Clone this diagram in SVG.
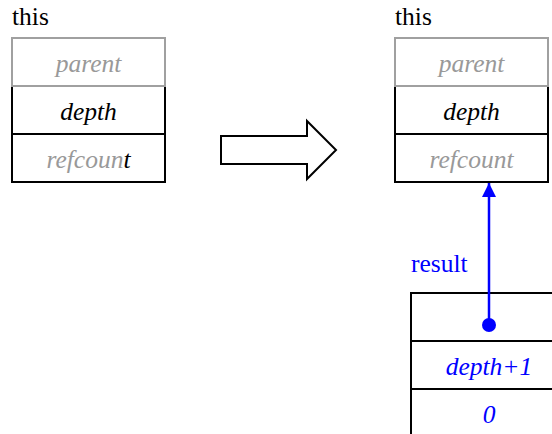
<svg xmlns="http://www.w3.org/2000/svg" width="552" height="434" viewBox="0 0 552 434" font-family="'Liberation Serif', 'Times New Roman', serif" font-size="26">
<style>
.t{font-family:'Liberation Serif','Times New Roman',serif;font-size:25.5px}
.f{font-style:italic;text-anchor:middle}
.g{fill:#999999}
.b{fill:#0000ff}
.cell{fill:#ffffff;stroke:#000000;stroke-width:2}
.gcell{fill:#ffffff;stroke:#a0a0a0;stroke-width:2}
</style>
<defs>
<marker id="ah" viewBox="0 0 10 10" refX="10" refY="5" markerWidth="14" markerHeight="16" markerUnits="userSpaceOnUse" orient="auto">
<path d="M0,0 L10,5 L0,10 z" fill="#0000ff"/>
</marker>
</defs>
<g id="this-left">
<text class="t" x="12" y="25">this</text>
<rect class="cell" x="12" y="86" width="153" height="48"/>
<rect class="cell" x="12" y="134" width="153" height="48"/>
<rect class="gcell" x="12" y="38" width="153" height="48"/>
<text class="t f g" x="88.5" y="72">parent</text>
<text class="t f" x="88.5" y="120">depth</text>
<text class="t f" x="88.5" y="168"><tspan class="g">refcoun</tspan><tspan>t</tspan></text>
</g>
<g id="transform-arrow">
<polygon points="221,136 307,136 307,121 336,150 307,179 307,164 221,164" fill="#ffffff" stroke="#000000" stroke-width="2"/>
</g>
<g id="this-right">
<text class="t" x="395" y="25">this</text>
<rect class="cell" x="395" y="86" width="153" height="48"/>
<rect class="cell" x="395" y="134" width="153" height="48"/>
<rect class="gcell" x="395" y="38" width="153" height="48"/>
<text class="t f g" x="471.5" y="72">parent</text>
<text class="t f" x="471.5" y="120">depth</text>
<text class="t f g" x="471.5" y="168">refcount</text>
</g>
<g id="result">
<text class="t b" x="411" y="272">result</text>
<rect class="cell" x="411" y="293" width="153" height="48"/>
<rect class="cell" x="411" y="341" width="153" height="48"/>
<rect class="cell" x="411" y="389" width="153" height="48"/>
<text class="t f b" x="489" y="375">depth+1</text>
<text class="t f b" x="489" y="423">0</text>
</g>
<g id="connectors">
<line x1="489" y1="325" x2="489" y2="183" stroke="#0000ff" stroke-width="2.5" marker-end="url(#ah)"/>
<circle cx="489" cy="325" r="7" fill="#0000ff"/>
</g>
</svg>
